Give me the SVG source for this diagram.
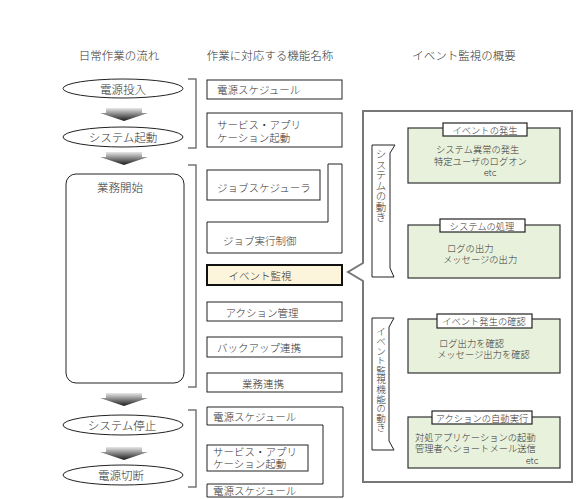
<svg xmlns="http://www.w3.org/2000/svg" width="577" height="499" viewBox="0 0 577 499">
<defs>
<linearGradient id="gdown" x1="0" y1="0" x2="0" y2="1">
<stop offset="0" stop-color="#e8e8e8"/>
<stop offset="1" stop-color="#1a1a1a"/>
</linearGradient>
<style>
text{font-family:"Noto Sans CJK JP","Noto Sans",sans-serif;font-weight:300;fill:#333;dominant-baseline:central}
.h{font-size:11.5px}
.t{font-size:10.5px}
.p{font-size:9.3px}
.c{text-anchor:middle}
.box{fill:#fff;stroke:#222;stroke-width:1}
.ell{fill:#fff;stroke:#222;stroke-width:1}
.br{fill:none;stroke:#777;stroke-width:1.5}
.grn{fill:#e8f1dc;stroke:#333;stroke-width:1.2}
.lbl{fill:#fff;stroke:#222;stroke-width:1.2}
.darr{fill:url(#gdown);stroke:none}
.parr{fill:#d8d2e2;stroke:#444;stroke-width:1}
.vt{font-size:10.5px;writing-mode:vertical-rl;text-orientation:upright}
</style>
</defs>
<rect width="577" height="499" fill="#fff"/>

<g id="headers">
<text class="h c" x="119" y="55">日常作業の流れ</text>
<text class="h c" x="270" y="55">作業に対応する機能名称</text>
<text class="h c" x="464" y="55">イベント監視の概要</text>
</g>

<g id="connectors">
<polygon class="darr" points="106,108 142,108 142,113 148,113 124,121 100,113 106,113"/>
<polygon class="darr" points="106,152 142,152 142,157 148,157 124,165 100,157 106,157"/>
<polygon class="darr" points="106,393 142,393 142,398 148,398 124,406 100,398 106,398"/>
<polygon class="darr" points="106,447 142,447 142,452 148,452 124,460 100,452 106,452"/>
<polyline class="br" points="188,79 196,79 196,148 188,148"/>
<polyline class="br" points="188,165 196,165 196,387 188,387"/>
<polyline class="br" points="188,410 196,410 196,487 188,487"/>
<polygon class="parr" points="471,188 489,188 489,199 502,199 480,212 458,199 471,199"/>
<polygon class="parr" points="471,282 489,282 489,293 502,293 480,306 458,293 471,293"/>
<polygon class="parr" points="471,379 489,379 489,390 502,390 480,403 458,390 471,390"/>
</g>

<g id="node-power-on">
<ellipse class="ell" cx="123" cy="88.5" rx="60" ry="9.5"/>
<text class="h c" x="123" y="88.5">電源投入</text>
</g>
<g id="node-system-start">
<ellipse class="ell" cx="123" cy="137" rx="60" ry="10"/>
<text class="h c" x="123" y="137">システム起動</text>
</g>
<g id="node-business-start">
<rect class="box" x="66" y="174" width="118" height="209" rx="10"/>
<text class="h c" x="120" y="187">業務開始</text>
</g>
<g id="node-system-stop">
<ellipse class="ell" cx="123" cy="425" rx="60" ry="10"/>
<text class="h c" x="122" y="425">システム停止</text>
</g>
<g id="node-power-off">
<ellipse class="ell" cx="123" cy="475" rx="60" ry="10"/>
<text class="h c" x="121" y="475">電源切断</text>
</g>

<g id="node-power-schedule-1">
<rect class="box" x="207" y="80" width="135" height="19"/>
<text class="t" x="217" y="89.5">電源スケジュール</text>
</g>
<g id="node-service-app-1">
<rect class="box" x="207" y="113" width="135" height="34"/>
<text class="t" x="217" y="124">サービス・アプリ</text>
<text class="t" x="217" y="137">ケーション起動</text>
</g>
<g id="node-job-scheduler">
<rect class="box" x="207" y="170" width="113" height="30"/>
<text class="t" x="217" y="187">ジョブスケジューラ</text>
</g>
<g id="node-job-control">
<polygon class="box" points="207,222 328,222 328,164 342,164 342,253 207,253"/>
<text class="t" x="223" y="240">ジョブ実行制御</text>
</g>
<g id="node-event-monitor">
<rect x="207" y="265" width="135" height="20" fill="#fcf5dc" stroke="#111" stroke-width="2"/>
<text class="t c" x="260" y="275">イベント監視</text>
</g>
<g id="node-action-mgmt">
<rect class="box" x="207" y="302" width="135" height="19"/>
<text class="t c" x="262" y="312">アクション管理</text>
</g>
<g id="node-backup">
<rect class="box" x="207" y="337" width="135" height="20"/>
<text class="t c" x="259" y="347.5">バックアップ連携</text>
</g>
<g id="node-business-link">
<rect class="box" x="207" y="373" width="135" height="19"/>
<text class="t c" x="263" y="383">業務連携</text>
</g>
<g id="node-power-schedule-2">
<polygon class="box" points="207,407 343,407 343,497 207,497 207,484 323,484 323,425 207,425"/>
<text class="t" x="213" y="416">電源スケジュール</text>
<text class="t" x="213" y="490">電源スケジュール</text>
</g>
<g id="node-service-app-2">
<rect class="box" x="207" y="445" width="101" height="26"/>
<text class="t" x="213" y="451.5">サービス・アプリ</text>
<text class="t" x="213" y="463.5">ケーション起動</text>
</g>

<g id="node-event-panel">
<path d="M363,263 L363,111 L572,111 L572,482 L363,482 L363,281 L348,272 Z" fill="#fff" stroke="#777" stroke-width="2"/>
</g>
<g id="node-system-behavior">
<polygon class="box" points="372,145 395,145 390,153 390,268 394,277 372,277"/>
<text class="vt" x="381" y="149">システムの動き</text>
</g>
<g id="node-monitor-behavior">
<polygon class="box" points="372,318 394,318 389,327 389,441 394,450 372,450"/>
<text class="vt" x="381" y="327" style="font-size:9.6px">イベント監視機能の動き</text>
</g>

<g id="node-event-occur">
<rect class="grn" x="408" y="128" width="152" height="55"/>
<rect class="lbl" x="443" y="123" width="84" height="13"/>
<text class="p c" x="485" y="129.5">イベントの発生</text>
<text class="p" x="436" y="149">システム異常の発生</text>
<text class="p" x="434" y="160.5">特定ユーザのログオン</text>
<text class="p c" x="490" y="172">etc</text>
</g>
<g id="node-system-process">
<rect class="grn" x="408" y="225" width="152" height="53"/>
<rect class="lbl" x="440" y="219" width="85" height="13"/>
<text class="p c" x="482" y="225.5">システムの処理</text>
<text class="p" x="447" y="247.5">ログの出力</text>
<text class="p" x="443" y="259">メッセージの出力</text>
</g>
<g id="node-event-confirm">
<rect class="grn" x="408" y="319" width="152" height="54"/>
<rect class="lbl" x="437" y="314" width="95" height="14"/>
<text class="p c" x="484" y="321">イベント発生の確認</text>
<text class="p" x="439" y="342.5">ログ出力を確認</text>
<text class="p" x="437" y="354">メッセージ出力を確認</text>
</g>
<g id="node-auto-action">
<rect class="grn" x="408" y="417" width="152" height="51"/>
<rect class="lbl" x="432" y="411" width="100" height="13"/>
<text class="p c" x="482" y="417.5">アクションの自動実行</text>
<text class="p" x="415" y="436.5">対処アプリケーションの起動</text>
<text class="p" x="415" y="448">管理者へショートメール送信</text>
<text class="p c" x="532" y="459.5">etc</text>
</g>
</svg>
